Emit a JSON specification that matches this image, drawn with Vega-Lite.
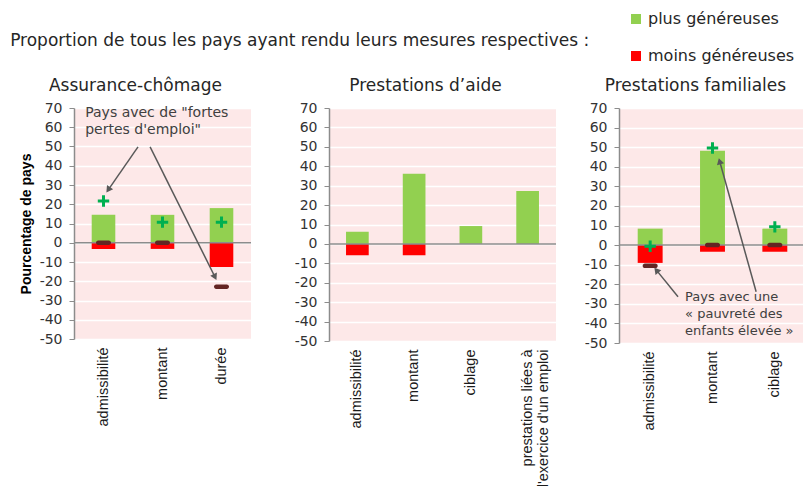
{
  "$schema": "https://vega.github.io/schema/vega-lite/v6.json",
  "padding": {"left": 10, "top": 11, "right": 0, "bottom": 0},
  "background": "#ffffff",
  "title": {
    "text": "Proportion de tous les pays ayant rendu leurs mesures respectives :",
    "anchor": "start",
    "frame": "bounds",
    "dx": -9,
    "offset": -39,
    "font": "DejaVu Sans",
    "fontSize": 17,
    "fontWeight": "normal",
    "color": "#262626"
  },
  "datasets": {
    "bars": [
      {"panel": "AC", "cat": "admissibilité", "type": "plus généreuses", "value": 14.5},
      {"panel": "AC", "cat": "admissibilité", "type": "moins généreuses", "value": -3.2},
      {"panel": "AC", "cat": "montant", "type": "plus généreuses", "value": 14.5},
      {"panel": "AC", "cat": "montant", "type": "moins généreuses", "value": -3.2},
      {"panel": "AC", "cat": "durée", "type": "plus généreuses", "value": 18},
      {"panel": "AC", "cat": "durée", "type": "moins généreuses", "value": -12.6},
      {"panel": "PA", "cat": "admissibilité", "type": "plus généreuses", "value": 6.3},
      {"panel": "PA", "cat": "admissibilité", "type": "moins généreuses", "value": -5.8},
      {"panel": "PA", "cat": "montant", "type": "plus généreuses", "value": 36.2},
      {"panel": "PA", "cat": "montant", "type": "moins généreuses", "value": -5.8},
      {"panel": "PA", "cat": "ciblage", "type": "plus généreuses", "value": 9.2},
      {"panel": "PA", "cat": "ciblage", "type": "moins généreuses", "value": 0},
      {"panel": "PA", "cat": "prestations liées à l'exercice d'un emploi", "type": "plus généreuses", "value": 27.2},
      {"panel": "PA", "cat": "prestations liées à l'exercice d'un emploi", "type": "moins généreuses", "value": 0},
      {"panel": "PF", "cat": "admissibilité", "type": "plus généreuses", "value": 8.4},
      {"panel": "PF", "cat": "admissibilité", "type": "moins généreuses", "value": -9.1},
      {"panel": "PF", "cat": "montant", "type": "plus généreuses", "value": 48.2},
      {"panel": "PF", "cat": "montant", "type": "moins généreuses", "value": -3.4},
      {"panel": "PF", "cat": "ciblage", "type": "plus généreuses", "value": 8.4},
      {"panel": "PF", "cat": "ciblage", "type": "moins généreuses", "value": -3.4}
    ],
    "markers": [
      {"panel": "AC", "cat": "admissibilité", "kind": "plus", "value": 21.7},
      {"panel": "AC", "cat": "montant", "kind": "plus", "value": 10.7},
      {"panel": "AC", "cat": "durée", "kind": "plus", "value": 10.7},
      {"panel": "AC", "cat": "admissibilité", "kind": "minus", "value": 0},
      {"panel": "AC", "cat": "montant", "kind": "minus", "value": 0},
      {"panel": "AC", "cat": "durée", "kind": "minus", "value": -22.8},
      {"panel": "PF", "cat": "admissibilité", "kind": "plus", "value": -0.6},
      {"panel": "PF", "cat": "montant", "kind": "plus", "value": 49.6},
      {"panel": "PF", "cat": "ciblage", "kind": "plus", "value": 9.3},
      {"panel": "PF", "cat": "admissibilité", "kind": "minus", "value": -10.6},
      {"panel": "PF", "cat": "montant", "kind": "minus", "value": 0},
      {"panel": "PF", "cat": "ciblage", "kind": "minus", "value": 0}
    ],
    "arrows": [
      {"panel": "AC", "x1": 1.085, "y1": 49.8, "x2": 0.58, "y2": 27.5},
      {"panel": "AC", "x1": 1.29, "y1": 49.8, "x2": 2.39, "y2": -17.8},
      {"panel": "PF", "x1": 0.947, "y1": -26.4, "x2": 0.6, "y2": -12.8},
      {"panel": "PF", "x1": 2.2, "y1": -23.8, "x2": 1.615, "y2": 42.8}
    ],
    "notes": [
      {"panel": "AC", "tx": 0.19, "ty": 70.8, "label": "Pays avec de \"fortes\npertes d'emploi\""},
      {"panel": "PF", "tx": 1.06, "ty": -23.3, "label": "Pays avec une\n« pauvreté des\nenfants élevée »"}
    ]
  },
  "config": {
    "view": {"stroke": null, "fill": "#fde8e8"},
    "axisY": {
      "grid": true,
      "gridColor": "#ffffff",
      "gridWidth": 1.5,
      "domainColor": "#8c8c8c",
      "domainWidth": 1.5,
      "tickColor": "#8c8c8c",
      "tickSize": 5,
      "labelPadding": 7,
      "labelFont": "DejaVu Sans",
      "labelFontSize": 14,
      "labelColor": "#333333",
      "title": null
    },
    "axisX": {
      "domain": false,
      "ticks": false,
      "grid": false,
      "labelAngle": -90,
      "labelFont": "Liberation Sans",
      "labelFontSize": 14.5,
      "labelColor": "#1a1a1a",
      "labelPadding": 8,
      "labelLineHeight": 16,
      "title": null
    }
  },
  "resolve": {"scale": {"color": "shared"}, "legend": {"color": "shared"}},
  "spacing": 42,
  "hconcat": [
    {
      "width": 177,
      "height": 231,
      "title": {"text": "Assurance-chômage", "frame": "bounds", "offset": 6, "font": "DejaVu Sans", "fontSize": 17, "fontWeight": "normal", "color": "#262626"},
      "layer": [
        {
          "layer": [
            {
              "data": {"name": "bars"},
              "transform": [{"filter": "datum.panel == 'AC'"}],
              "mark": {"type": "bar"},
              "encoding": {
                "x": {"field": "cat", "type": "nominal", "sort": null, "scale": {"type": "band", "paddingInner": 0.6, "paddingOuter": 0.3}},
                "y": {"field": "value", "type": "quantitative", "stack": null, "scale": {"domain": [-50, 70], "nice": false, "zero": false},
                  "axis": {"values": [-50, -40, -30, -20, -10, 0, 10, 20, 30, 40, 50, 60, 70], "tickCount": 20, "labelExpr": "datum.value", "labelOverlap": false,
                    "title": "Pourcentage de pays", "titleFont": "Liberation Sans", "titleFontSize": 14, "titleFontWeight": "bold", "titleColor": "#000000", "titlePadding": 6}},
                "color": {"field": "type", "type": "nominal",
                  "scale": {"domain": ["plus généreuses", "moins généreuses"], "range": ["#92d050", "#ff0000"]},
                  "legend": {"orient": "none", "legendX": 554, "legendY": -97, "direction": "vertical", "title": null, "symbolType": "square", "symbolSize": 100, "symbolStrokeWidth": 0, "symbolOpacity": 1, "labelFont": "DejaVu Sans", "labelFontSize": 16, "labelColor": "#262626", "labelOffset": 4, "rowPadding": 21, "padding": 0}}
              }
            },
            {
              "data": {"values": [{}]},
              "mark": {"type": "rule", "color": "#8c8c8c", "strokeWidth": 1.5},
              "encoding": {"y": {"datum": 0}}
            },
            {
              "data": {"name": "markers"},
              "transform": [{"filter": "datum.panel == 'AC' && datum.kind == 'plus'"}],
              "mark": {"type": "point", "shape": "M-1,0H1M0,-1V1", "filled": false, "stroke": "#00b050", "strokeWidth": 3, "size": 130, "opacity": 1},
              "encoding": {"x": {"field": "cat", "type": "nominal", "sort": null}, "y": {"field": "value", "type": "quantitative"}}
            },
            {
              "data": {"name": "markers"},
              "transform": [{"filter": "datum.panel == 'AC' && datum.kind == 'minus'"}],
              "mark": {"type": "tick", "color": "#632523", "thickness": 4.5, "size": 15, "cornerRadius": 2.2, "opacity": 1},
              "encoding": {"x": {"field": "cat", "type": "nominal", "sort": null}, "y": {"field": "value", "type": "quantitative"}}
            }
          ]
        },
        {
          "layer": [
            {
              "data": {"name": "arrows"},
              "transform": [{"filter": "datum.panel == 'AC'"}],
              "mark": {"type": "rule", "color": "#595959", "strokeWidth": 1.5},
              "encoding": {
                "x": {"field": "x1", "type": "quantitative", "scale": {"domain": [0, 3], "nice": false, "zero": false}, "axis": null},
                "x2": {"field": "x2"},
                "y": {"field": "y1", "type": "quantitative"},
                "y2": {"field": "y2"}
              }
            },
            {
              "data": {"name": "arrows"},
              "transform": [
                {"filter": "datum.panel == 'AC'"},
                {"calculate": "atan2((datum.x2 - datum.x1) * 59, (datum.y2 - datum.y1) * 1.925) * 180 / PI", "as": "ang"}
              ],
              "mark": {"type": "point", "shape": "triangle-up", "filled": true, "color": "#595959", "size": 55, "opacity": 1},
              "encoding": {
                "x": {"field": "x2", "type": "quantitative"},
                "y": {"field": "y2", "type": "quantitative"},
                "angle": {"field": "ang", "type": "quantitative", "scale": null}
              }
            },
            {
              "data": {"name": "notes"},
              "transform": [{"filter": "datum.panel == 'AC'"}],
              "mark": {"type": "text", "align": "left", "baseline": "top", "lineBreak": "\n", "font": "DejaVu Sans", "fontSize": 14, "lineHeight": 17, "color": "#404040"},
              "encoding": {
                "x": {"field": "tx", "type": "quantitative"},
                "y": {"field": "ty", "type": "quantitative"},
                "text": {"field": "label"}
              }
            }
          ]
        }
      ],
      "resolve": {"scale": {"x": "independent"}}
    },
    {
      "spacing": 27,
      "hconcat": [
        {
          "width": 227,
          "height": 233,
          "title": {"text": "Prestations d’aide", "frame": "bounds", "offset": 6, "font": "DejaVu Sans", "fontSize": 17, "fontWeight": "normal", "color": "#262626"},
          "layer": [
            {
              "data": {"name": "bars"},
              "transform": [{"filter": "datum.panel == 'PA'"}],
              "mark": {"type": "bar"},
              "encoding": {
                "x": {"field": "cat", "type": "nominal", "sort": null, "scale": {"type": "band", "paddingInner": 0.6, "paddingOuter": 0.3},
                  "axis": {"labelExpr": "indexof(datum.value, 'prestations') == 0 ? ['prestations liées à', \"l'exercice d'un emploi\"] : datum.value"}},
                "y": {"field": "value", "type": "quantitative", "stack": null, "scale": {"domain": [-50, 70], "nice": false, "zero": false},
                  "axis": {"values": [-50, -40, -30, -20, -10, 0, 10, 20, 30, 40, 50, 60, 70], "tickCount": 20, "labelExpr": "datum.value", "labelOverlap": false}},
                "color": {"field": "type", "type": "nominal",
                  "scale": {"domain": ["plus généreuses", "moins généreuses"], "range": ["#92d050", "#ff0000"]},
                  "legend": {"orient": "none", "legendX": 554, "legendY": -97, "direction": "vertical", "title": null, "symbolType": "square", "symbolSize": 100, "symbolStrokeWidth": 0, "symbolOpacity": 1, "labelFont": "DejaVu Sans", "labelFontSize": 16, "labelColor": "#262626", "labelOffset": 4, "rowPadding": 21, "padding": 0}}
              }
            },
            {
              "data": {"values": [{}]},
              "mark": {"type": "rule", "color": "#8c8c8c", "strokeWidth": 1.5},
              "encoding": {"y": {"datum": 0}}
            }
          ]
        },
        {
          "width": 187,
          "height": 235,
          "title": {"text": "Prestations familiales", "frame": "bounds", "offset": 6, "font": "DejaVu Sans", "fontSize": 17, "fontWeight": "normal", "color": "#262626"},
          "layer": [
            {
              "layer": [
                {
                  "data": {"name": "bars"},
                  "transform": [{"filter": "datum.panel == 'PF'"}],
                  "mark": {"type": "bar"},
                  "encoding": {
                    "x": {"field": "cat", "type": "nominal", "sort": null, "scale": {"type": "band", "paddingInner": 0.6, "paddingOuter": 0.3}},
                    "y": {"field": "value", "type": "quantitative", "stack": null, "scale": {"domain": [-50, 70], "nice": false, "zero": false},
                      "axis": {"values": [-50, -40, -30, -20, -10, 0, 10, 20, 30, 40, 50, 60, 70], "tickCount": 20, "labelExpr": "datum.value", "labelOverlap": false}},
                    "color": {"field": "type", "type": "nominal",
                      "scale": {"domain": ["plus généreuses", "moins généreuses"], "range": ["#92d050", "#ff0000"]},
                      "legend": {"orient": "none", "legendX": 554, "legendY": -97, "direction": "vertical", "title": null, "symbolType": "square", "symbolSize": 100, "symbolStrokeWidth": 0, "symbolOpacity": 1, "labelFont": "DejaVu Sans", "labelFontSize": 16, "labelColor": "#262626", "labelOffset": 4, "rowPadding": 21, "padding": 0}}
                  }
                },
                {
                  "data": {"values": [{}]},
                  "mark": {"type": "rule", "color": "#8c8c8c", "strokeWidth": 1.5},
                  "encoding": {"y": {"datum": 0}}
                },
                {
                  "data": {"name": "markers"},
                  "transform": [{"filter": "datum.panel == 'PF' && datum.kind == 'plus'"}],
                  "mark": {"type": "point", "shape": "M-1,0H1M0,-1V1", "filled": false, "stroke": "#00b050", "strokeWidth": 3, "size": 130, "opacity": 1},
                  "encoding": {"x": {"field": "cat", "type": "nominal", "sort": null}, "y": {"field": "value", "type": "quantitative"}}
                },
                {
                  "data": {"name": "markers"},
                  "transform": [{"filter": "datum.panel == 'PF' && datum.kind == 'minus'"}],
                  "mark": {"type": "tick", "color": "#632523", "thickness": 4.5, "size": 15, "cornerRadius": 2.2, "opacity": 1},
                  "encoding": {"x": {"field": "cat", "type": "nominal", "sort": null}, "y": {"field": "value", "type": "quantitative"}}
                }
              ]
            },
            {
              "layer": [
                {
                  "data": {"name": "arrows"},
                  "transform": [{"filter": "datum.panel == 'PF'"}],
                  "mark": {"type": "rule", "color": "#595959", "strokeWidth": 1.5},
                  "encoding": {
                    "x": {"field": "x1", "type": "quantitative", "scale": {"domain": [0, 3], "nice": false, "zero": false}, "axis": null},
                    "x2": {"field": "x2"},
                    "y": {"field": "y1", "type": "quantitative"},
                    "y2": {"field": "y2"}
                  }
                },
                {
                  "data": {"name": "arrows"},
                  "transform": [
                    {"filter": "datum.panel == 'PF'"},
                    {"calculate": "atan2((datum.x2 - datum.x1) * 62.33, (datum.y2 - datum.y1) * 1.958) * 180 / PI", "as": "ang"}
                  ],
                  "mark": {"type": "point", "shape": "triangle-up", "filled": true, "color": "#595959", "size": 55, "opacity": 1},
                  "encoding": {
                    "x": {"field": "x2", "type": "quantitative"},
                    "y": {"field": "y2", "type": "quantitative"},
                    "angle": {"field": "ang", "type": "quantitative", "scale": null}
                  }
                },
                {
                  "data": {"name": "notes"},
                  "transform": [{"filter": "datum.panel == 'PF'"}],
                  "mark": {"type": "text", "align": "left", "baseline": "top", "lineBreak": "\n", "font": "DejaVu Sans", "fontSize": 13, "lineHeight": 17, "color": "#404040"},
                  "encoding": {
                    "x": {"field": "tx", "type": "quantitative"},
                    "y": {"field": "ty", "type": "quantitative"},
                    "text": {"field": "label"}
                  }
                }
              ]
            }
          ],
          "resolve": {"scale": {"x": "independent"}}
        }
      ]
    }
  ]
}
